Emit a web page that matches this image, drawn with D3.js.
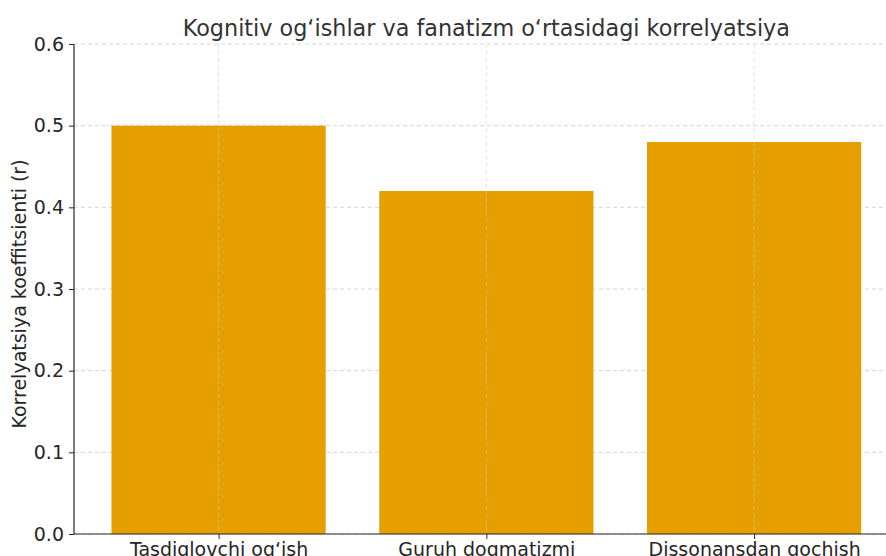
<!DOCTYPE html>
<html>
<head>
<meta charset="utf-8">
<script src="https://cdn.jsdelivr.net/npm/d3@7"></script>
<style>
  body { margin: 0; background: #fff; }
  svg { display: block; font-family: "DejaVu Sans", sans-serif; }
  .grid line { stroke: #cccccc; stroke-dasharray: 4 3; stroke-width: 0.8; }
  .axis text { fill: #262626; font-size: 19px; font-family: "DejaVu Sans", sans-serif; }
  .axis path, .axis line { stroke: #262626; }
</style>
</head>
<body>
<svg id="chart"></svg>
<script>
'use strict';

var categories = ['Tasdiqlovchi og‘ish', 'Guruh dogmatizmi', 'Dissonansdan qochish'];
var values = [0.50, 0.42, 0.48];
var y_ticks = [0.0, 0.1, 0.2, 0.3, 0.4, 0.5, 0.6];

var width = 886, height = 556;
var plot_left = 74, plot_right = 898.7, plot_top = 44, plot_bottom = 534;

var svg = d3.select('#chart').attr('width', width).attr('height', height);

var x = d3.scaleLinear().domain([-0.54, categories.length - 1 + 0.54]).range([plot_left, plot_right]);
var y = d3.scaleLinear().domain([0, 0.6]).range([plot_bottom, plot_top]);
var bar_width = 0.8;

// horizontal grid, behind the bars
svg.append('g').attr('class', 'grid').selectAll('line').data(y_ticks).enter().append('line')
    .attr('x1', plot_left).attr('x2', plot_right)
    .attr('y1', function (d) { return y(d); }).attr('y2', function (d) { return y(d); });

// bars
svg.selectAll('.bar').data(values).enter().append('rect')
    .attr('class', 'bar')
    .attr('x', function (d, i) { return x(i - bar_width / 2); })
    .attr('width', function () { return x(bar_width) - x(0); })
    .attr('y', function (d) { return y(d); })
    .attr('height', function (d) { return plot_bottom - y(d); })
    .attr('fill', '#e69f00');

// vertical grid, shows faintly over the bars
svg.append('g').attr('class', 'grid').attr('opacity', 0.7)
    .selectAll('line').data(d3.range(categories.length)).enter().append('line')
    .attr('x1', function (d) { return x(d); }).attr('x2', function (d) { return x(d); })
    .attr('y1', plot_top).attr('y2', plot_bottom);

// axes
var y_axis = d3.axisLeft(y).tickValues(y_ticks).tickFormat(d3.format('.1f')).tickSize(5).tickPadding(5);
svg.append('g').attr('class', 'axis')
    .attr('transform', 'translate(' + plot_left + ',0)')
    .call(y_axis)
    .call(function (g) { g.select('.domain').attr('d', 'M0,' + plot_top + 'V' + plot_bottom); });

var x_axis = d3.axisBottom(x).tickValues(d3.range(categories.length))
    .tickFormat(function (d) { return categories[d]; }).tickSize(5).tickPadding(4);
svg.append('g').attr('class', 'axis')
    .attr('transform', 'translate(0,' + plot_bottom + ')')
    .call(x_axis)
    .call(function (g) { g.select('.domain').attr('d', 'M' + plot_left + ',0H' + plot_right); });

svg.selectAll('.axis .domain').attr('stroke-width', 1.2);

// title
svg.append('text')
    .attr('x', (plot_left + plot_right) / 2).attr('y', 36)
    .attr('text-anchor', 'middle')
    .style('font-size', '22.3px').style('fill', '#333')
    .text('Kognitiv og‘ishlar va fanatizm o‘rtasidagi korrelyatsiya');

// y label
svg.append('text')
    .attr('transform', 'translate(26,294) rotate(-90)')
    .attr('text-anchor', 'middle')
    .style('font-size', '19px').style('fill', '#262626')
    .text('Korrelyatsiya koeffitsienti (r)');
</script>
</body>
</html>
